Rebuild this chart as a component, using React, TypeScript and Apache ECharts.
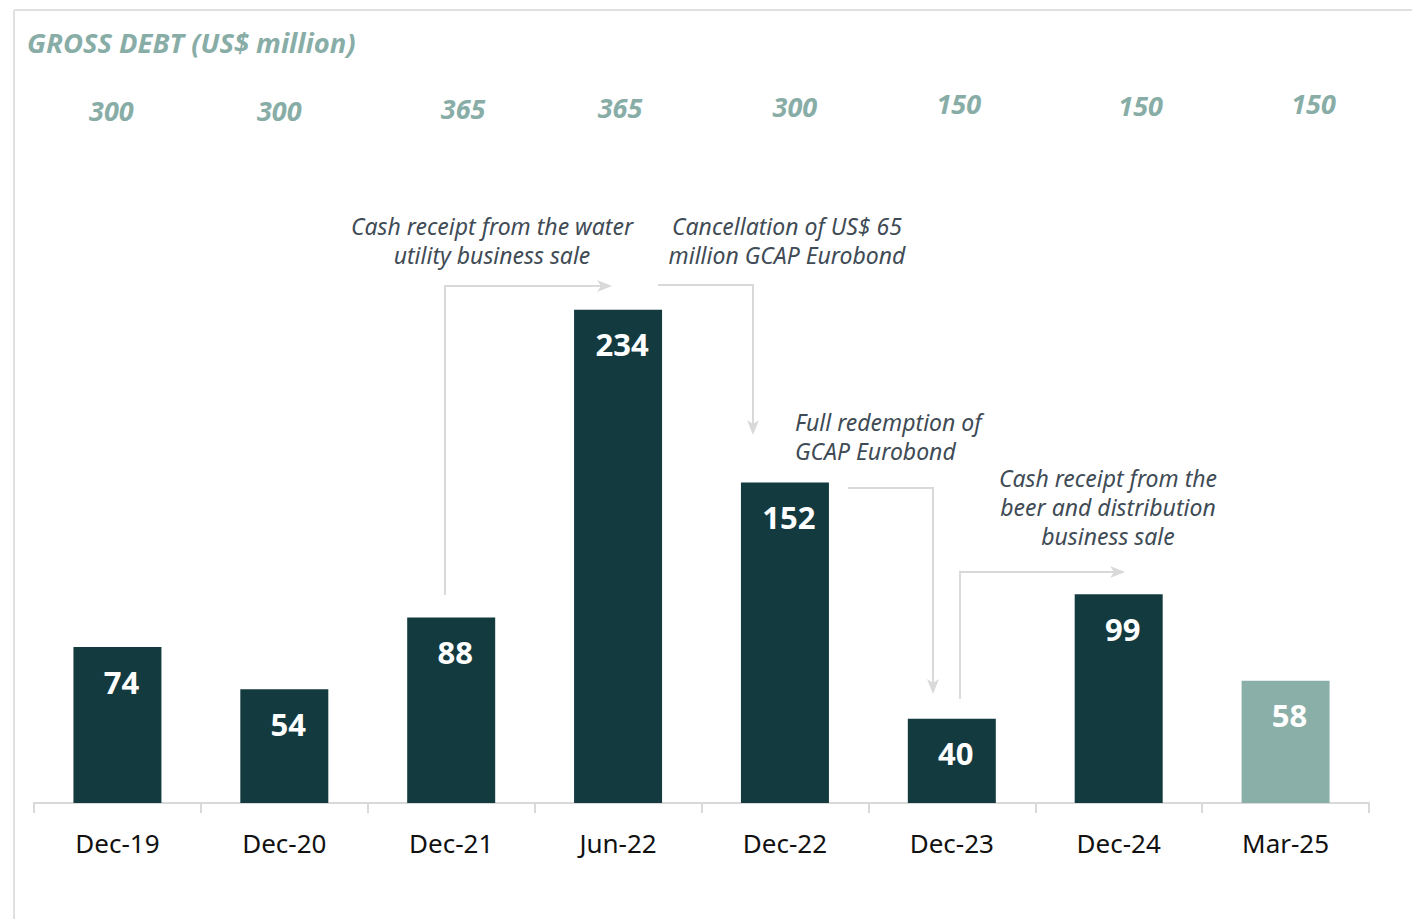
import React, { useEffect, useRef } from "react";
import * as echarts from "echarts";

const categories = ["Dec-19", "Dec-20", "Dec-21", "Jun-22", "Dec-22", "Dec-23", "Dec-24", "Mar-25"];
const netDebt = [74, 54, 88, 234, 152, 40, 99, 58];
const grossDebt = [300, 300, 365, 365, 300, 150, 150, 150];
const titleText = "GROSS DEBT (US$ million)";
const noteWater = ["Cash receipt from the water", "utility business sale"];
const noteCancel = ["Cancellation of US$ 65", "million GCAP Eurobond"];
const noteRedeem = ["Full redemption of", "GCAP Eurobond"];
const noteBeer = ["Cash receipt from the", "beer and distribution", "business sale"];

// layout-only shifts of the gross-debt labels (px)
const grossShiftX = [-6, -5, 12, 2, 10, 7, 22, 28];
const grossY = [110, 110, 108, 107, 106, 103, 105, 103];

const DARK = "#133a3f";
const LIGHT = "#8aafa9";
const TEAL = "#88ada7";
const NOTE = "#404b55";
const GREY = "#d9d9d9";
const FONT = '"Noto Sans", "Open Sans", sans-serif';

function arrowLine(points: number[][], dir: "right" | "down") {
  const tip = points[points.length - 1];
  const [tx, ty] = tip;
  let head: number[][];
  if (dir === "right") {
    head = [[tx, ty], [tx - 15, ty - 6], [tx - 11, ty], [tx - 15, ty + 6]];
  } else {
    head = [[tx, ty], [tx - 6, ty - 15], [tx, ty - 11], [tx + 6, ty - 15]];
  }
  const line = points.slice();
  line[line.length - 1] = dir === "right" ? [tx - 10, ty] : [tx, ty - 10];
  return [
    { type: "polyline", shape: { points: line }, style: { stroke: GREY, lineWidth: 2, fill: null }, silent: true },
    { type: "polygon", shape: { points: head }, style: { fill: GREY }, silent: true },
  ];
}

function noteText(lines: string[], x: number, y: number, align: string, lh: number) {
  return lines.map((t, i) => ({
    type: "text",
    style: {
      text: t,
      x,
      y: y + i * lh,
      font: `italic 400 23px ${FONT}`,
      fill: NOTE,
      textAlign: align,
      textVerticalAlign: "middle",
    },
    silent: true,
  }));
}

export default function App() {
  const ref = useRef<HTMLDivElement>(null);
  useEffect(() => {
    const chart = echarts.init(ref.current!, null, { renderer: "svg" });
    const option: any = {
      animation: false,
      backgroundColor: "#ffffff",
      grid: { left: 34, right: 43, bottom: 116, top: 276, containLabel: false },
      xAxis: {
        type: "category",
        data: categories,
        axisLine: { show: true, lineStyle: { color: GREY, width: 2 } },
        axisTick: { show: true, length: 10, lineStyle: { color: GREY, width: 2 } },
        axisLabel: { color: "#111111", fontSize: 26, fontFamily: FONT, margin: 27 },
      },
      yAxis: {
        type: "value",
        min: 0,
        max: 250,
        show: false,
        splitLine: { show: false },
      },
      series: [
        {
          type: "bar",
          barWidth: 88,
          data: netDebt.map((v, i) => ({
            value: v,
            itemStyle: { color: i === netDebt.length - 1 ? LIGHT : DARK },
          })),
          label: {
            show: true,
            position: "insideTop",
            distance: 19,
            color: "#ffffff",
            fontSize: 31,
            fontWeight: "bold",
            fontFamily: FONT,
            offset: [4, 0],
          },
        },
      ],
    };
    chart.setOption(option);

    const grossTexts = grossDebt.map((v, i) => {
      const cx = chart.convertToPixel({ xAxisIndex: 0 }, categories[i]) as number;
      return {
        type: "text",
        style: {
          text: String(v),
          x: cx + grossShiftX[i],
          y: grossY[i],
          font: `italic bold 27px ${FONT}`,
          fill: TEAL,
          textAlign: "center",
          textVerticalAlign: "middle",
        },
        silent: true,
      };
    });

    const graphics: any[] = [
      { type: "line", shape: { x1: 14, y1: 10, x2: 1412, y2: 10 }, style: { stroke: "#e0e0e0", lineWidth: 2 }, silent: true },
      { type: "line", shape: { x1: 14, y1: 10, x2: 14, y2: 919 }, style: { stroke: "#e0e0e0", lineWidth: 2 }, silent: true },
      {
        type: "text",
        style: {
          text: titleText,
          x: 27,
          y: 42,
          font: `italic bold 27.4px ${FONT}`,
          fill: TEAL,
          textAlign: "left",
          textVerticalAlign: "middle",
        },
        silent: true,
      },
      ...grossTexts,
      ...noteText(noteWater, 492, 226, "center", 29),
      ...noteText(noteCancel, 787, 226, "center", 29),
      ...noteText(noteRedeem, 795, 422, "left", 29),
      ...noteText(noteBeer, 1108, 477.5, "center", 29),
      ...arrowLine([[445, 595], [445, 286], [612, 286]], "right"),
      ...arrowLine([[658, 285], [753, 285], [753, 435]], "down"),
      ...arrowLine([[848, 488], [933, 488], [933, 694]], "down"),
      ...arrowLine([[960, 699], [960, 572], [1125, 572]], "right"),
    ];
    chart.setOption({ graphic: graphics });
    return () => chart.dispose();
  }, []);
  return (
    <div
      ref={ref}
      style={{ position: "fixed", left: 0, top: 0, width: 1412, height: 919, background: "#fff" }}
    />
  );
}
